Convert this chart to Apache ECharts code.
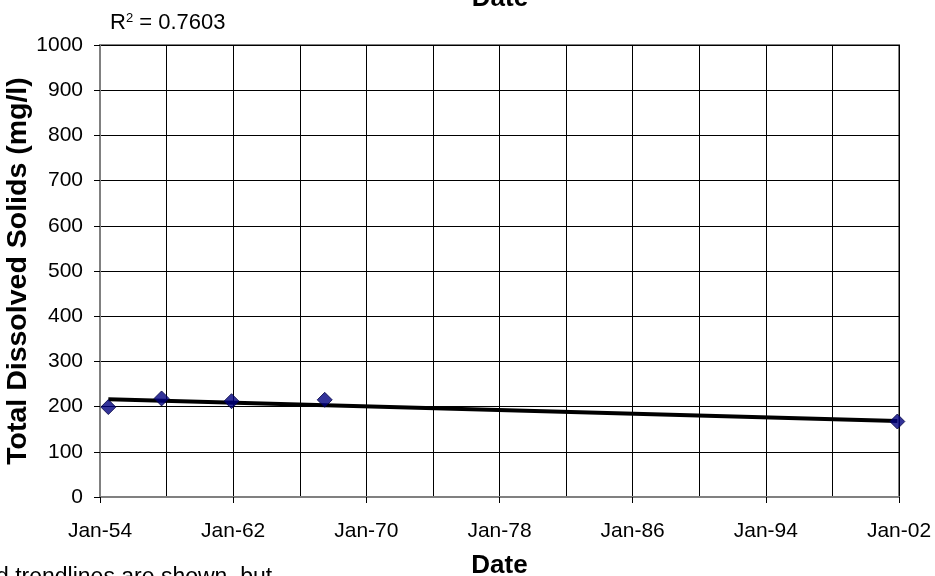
<!DOCTYPE html>
<html>
<head>
<meta charset="utf-8">
<script src="https://cdn.jsdelivr.net/npm/echarts@6/dist/echarts.min.js"></script>
<style>
  html, body { margin: 0; padding: 0; background: #fff; }
  #chart { width: 935px; height: 576px; }
</style>
</head>
<body>
<div id="chart"></div>
<script>
// sample dates (decimal years) and TDS readings
let sampleYears = [1954.5, 1957.7, 1961.9, 1967.5, 2001.9];
let tdsValues = [199, 218, 212, 215, 167];
// linear trendline end points as drawn
let trendYears = [1954.5, 2001.9];
let trendValues = [216, 168];
let rSquared = '0.7603';

let myChart = echarts.init(document.getElementById('chart'));
let font = 'Liberation Sans, Arial, sans-serif';

let option = {
  backgroundColor: '#fff',
  animation: false,
  grid: {
    left: 100,
    right: 36,
    top: 45,
    bottom: 79,
    containLabel: false,
    outerBoundsMode: 'none',
    show: true,
    borderColor: '#808080',
    borderWidth: 2
  },
  xAxis: {
    type: 'value',
    min: 1954,
    max: 2002,
    interval: 8,
    name: 'Date',
    nameLocation: 'middle',
    nameGap: 56,
    nameMoveOverlap: false,
    nameTextStyle: {
      fontFamily: font,
      fontSize: 26,
      fontWeight: 'bold',
      color: '#000'
    },
    axisLine: { lineStyle: { color: '#808080', width: 2 } },
    axisTick: { show: true, length: 6, lineStyle: { color: '#000' } },
    axisLabel: {
      fontFamily: font,
      fontSize: 21,
      color: '#000',
      margin: 24,
      formatter: function (v) {
        return 'Jan-' + String(v % 100).padStart(2, '0');
      }
    },
    splitLine: { show: true, lineStyle: { color: '#000', width: 1 } },
    minorTick: { show: false, splitNumber: 2 },
    minorSplitLine: { show: true, lineStyle: { color: '#000', width: 1 } }
  },
  yAxis: {
    type: 'value',
    min: 0,
    max: 1000,
    interval: 100,
    name: 'Total Dissolved Solids (mg/l)',
    nameLocation: 'middle',
    nameGap: 67,
    nameMoveOverlap: false,
    nameTextStyle: {
      fontFamily: font,
      fontSize: 28.5,
      fontWeight: 'bold',
      color: '#000'
    },
    axisLine: { show: true, lineStyle: { color: '#808080', width: 2 } },
    axisTick: { show: true, length: 6, lineStyle: { color: '#000' } },
    axisLabel: {
      fontFamily: font,
      fontSize: 21,
      color: '#000',
      margin: 17,
      formatter: function (v) { return String(v); }
    },
    splitLine: { show: true, lineStyle: { color: '#000', width: 1 } }
  },
  graphic: [
    {
      type: 'text',
      left: 110,
      top: 12,
      style: {
        text: '{r|R}{s|2}{r| = ' + rSquared + '}',
        rich: {
          r: { fontFamily: font, fontSize: 22, fill: '#000', verticalAlign: 'bottom' },
          s: { fontFamily: font, fontSize: 13, fill: '#000', verticalAlign: 'top' }
        }
      }
    },
    {
      type: 'text',
      x: 500,
      y: 12,
      style: {
        text: 'Date',
        fontFamily: font,
        fontSize: 26,
        fontWeight: 'bold',
        fill: '#000',
        align: 'center',
        verticalAlign: 'bottom'
      }
    },
    {
      type: 'text',
      left: -4,
      top: 566,
      style: {
        text: 'd trendlines are shown, but',
        fontFamily: font,
        fontSize: 23,
        fill: '#000'
      }
    }
  ],
  series: [
    {
      name: 'Trendline',
      type: 'line',
      data: trendYears.map(function (y, i) { return [y, trendValues[i]]; }),
      showSymbol: false,
      symbol: 'none',
      lineStyle: { color: '#000', width: 4 },
      z: 3
    },
    {
      name: 'TDS',
      type: 'scatter',
      data: sampleYears.map(function (y, i) { return [y, tdsValues[i]]; }),
      symbol: 'diamond',
      symbolSize: 15,
      itemStyle: { color: '#000080', borderColor: '#000040', borderWidth: 1 },
      z: 4
    }
  ]
};
myChart.setOption(option);
</script>
</body>
</html>
